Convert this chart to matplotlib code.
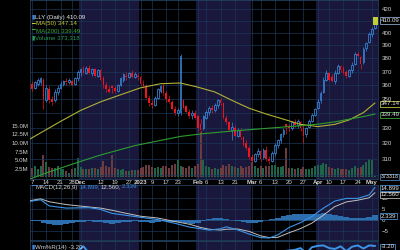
import matplotlib
matplotlib.use("Agg")
import matplotlib.pyplot as plt
from matplotlib.patches import Rectangle
from matplotlib.ticker import NullLocator

plt.rcParams["font.family"] = ["Liberation Sans", "DejaVu Sans"]

# LLY daily candles, one entry per trading day (Nov 7 2022 .. May 2 2023)
opens = [
    361, 358, 361, 362, 364, 349, 357, 350, 349, 355,
    358, 361, 363, 362, 363, 361, 365, 370, 371, 369,
    373, 369, 372, 367, 371, 365, 360, 357, 359, 358,
    356, 360, 364, 367, 366, 369, 366, 367, 366, 361,
    359, 351, 347, 346, 351, 356, 359, 354, 350, 348,
    343, 340, 341, 349, 345, 341, 339, 340, 338, 333,
    330, 337, 341, 344, 342, 346, 349, 347, 337, 334,
    329, 330, 325, 329, 324, 320, 317, 311, 309, 313,
    315, 311, 316, 310, 309, 314, 319, 322, 326, 333,
    331, 330, 334, 332, 334, 330, 326, 331, 335, 339,
    344, 349, 355, 364, 369, 366, 363, 369, 374, 372,
    370, 367, 371, 376, 383, 381, 377, 388, 393, 399,
    404]
highs = [
    363, 363, 365, 366, 365, 360, 359, 352, 357, 360,
    363, 364, 365, 365, 364, 366, 371, 373, 374, 374,
    375, 373, 373, 372, 372, 367, 362, 359, 360, 359,
    361, 366, 369, 370, 370, 371, 370, 369, 367, 364,
    361, 353, 349, 352, 358, 360, 361, 356, 353, 349,
    345, 344, 383, 350, 346, 343, 342, 342, 339, 336,
    339, 342, 345, 346, 347, 350, 351, 348, 339, 335,
    334, 332, 330, 330, 325, 322, 318, 313, 314, 317,
    316, 317, 318, 312, 315, 320, 323, 327, 330, 333,
    333, 335, 336, 336, 335, 332, 331, 336, 340, 344,
    350, 356, 366, 371, 370, 368, 371, 376, 375, 374,
    371, 372, 377, 385, 385, 382, 389, 393, 401, 405,
    411]
lows = [
    356, 357, 359, 360, 343, 348, 347, 346, 348, 353,
    357, 359, 360, 361, 359, 360, 363, 367, 368, 368,
    368, 367, 366, 366, 363, 358, 355, 354, 354, 354,
    355, 359, 362, 364, 365, 365, 365, 364, 360, 358,
    350, 345, 344, 345, 350, 354, 353, 348, 347, 342,
    339, 338, 339, 343, 340, 337, 336, 336, 328, 327,
    329, 336, 339, 340, 341, 344, 346, 336, 333, 328,
    322, 324, 324, 323, 318, 316, 310, 308, 308, 311,
    309, 310, 309, 307, 308, 312, 317, 320, 324, 326,
    328, 329, 331, 330, 328, 320, 324, 330, 334, 338,
    343, 347, 354, 363, 363, 362, 361, 368, 370, 368,
    365, 366, 369, 375, 381, 372, 376, 386, 392, 397,
    403]
closes = [
    357, 362, 364, 365, 350, 358, 349, 348, 355, 358,
    361, 363, 362, 364, 360, 365, 370, 372, 369, 373,
    369, 372, 367, 371, 364, 360, 357, 355, 358, 356,
    360, 365, 368, 366, 369, 366, 368, 366, 361, 359,
    351, 347, 346, 351, 357, 359, 354, 350, 348, 343,
    340, 342, 382, 344, 341, 338, 340, 337, 330, 329,
    338, 341, 344, 342, 346, 349, 347, 337, 334, 329,
    331, 325, 329, 324, 319, 317, 311, 309, 313, 315,
    310, 316, 310, 309, 314, 319, 322, 326, 329, 331,
    330, 334, 332, 335, 330, 325, 330, 335, 339, 343,
    348, 354, 364, 369, 364, 363, 369, 374, 371, 369,
    367, 371, 375, 383, 382, 376, 387, 392, 399, 403,
    410.09]
volumes = [  # millions of shares
    2.8, 3.2, 2.6, 3.4, 6.5, 4.6, 3.1, 2.9, 2.7, 3.2,
    2.5, 2.4, 2.0, 1.2, 2.6, 2.8, 5.6, 3.0, 2.6, 2.5,
    2.4, 2.7, 2.9, 2.6, 3.1, 4.9, 3.4, 3.0, 6.5, 2.8,
    2.4, 2.2, 2.5, 1.9, 2.0, 2.1, 2.2, 2.3, 2.8, 3.0,
    3.5, 3.6, 3.0, 2.9, 3.1, 2.8, 3.2, 3.3, 2.9, 3.6,
    3.8, 5.2, 3.4, 3.0, 2.8, 3.3, 2.7, 3.2, 4.0, 13.3,
    5.0, 3.4, 3.0, 2.6, 2.8, 2.5, 2.7, 3.5, 3.2, 4.0,
    3.4, 3.0, 2.9, 3.2, 2.8, 3.1, 3.4, 4.5, 3.2, 2.9,
    3.4, 2.8, 3.3, 3.2, 3.5, 3.6, 3.1, 3.0, 3.3, 8.5,
    2.9, 2.7, 2.6, 2.8, 2.4, 3.0, 2.6, 2.5, 2.8, 3.2,
    3.6, 3.5, 4.1, 3.8, 3.1, 2.7, 2.6, 2.9, 2.4, 2.5,
    2.6, 2.3, 2.8, 3.4, 2.9, 3.1, 3.6, 4.6, 5.3, 5.0,
    0.37]

# moving averages read at a few days
ma50_day = [-1, 5, 10, 17, 24, 31, 38, 45, 52, 58, 64, 70, 76, 82, 88, 94, 100, 106, 111, 116, 120]
ma50 = [322.5, 329, 334.5, 342, 348, 353, 358, 361, 361.5, 358.5, 355, 349, 343.5,
        339.5, 336, 332.5, 331, 332.5, 335.5, 340.5, 347.14]
ma200_day = [-1, 6, 12, 17, 24, 30, 36, 44, 52, 60, 70, 80, 88, 95, 100, 106, 111, 116, 120]
ma200 = [297.5, 302, 305.5, 308.5, 312.5, 315.5, 318.5, 321.5, 324.5, 326.3, 328,
         329.5, 330.7, 331.7, 332.6, 334.2, 336, 337.8, 339.49]

# MACD(12,26,9)
macd_day = [-1, 3, 6, 12, 20, 24, 28, 32, 38, 44, 50, 55, 59, 62, 66, 68, 72, 76, 80,
            83, 86, 90, 94, 98, 102, 106, 110, 114, 118, 120]
macd_line = [8.6, 9.4, 6.6, 5.6, 5.8, 5.0, 3.2, 2.5, 1.4, 0.4, -1.3, -3.0, -3.8, -4.4,
             -3.8, -2.9, -4.3, -6.2, -7.8, -8.0, -6.6, -3.2, -1.0, 1.8, 5.6, 8.8, 10.0,
             10.0, 11.6, 14.899]
macd_signal = [8.9, 9.8, 8.5, 7.2, 6.1, 5.6, 4.6, 3.5, 1.9, 1.1, -0.5, -1.7, -3.2, -4.0,
               -4.4, -4.0, -3.9, -5.0, -7.0, -7.8, -7.7, -5.6, -3.7, -1.2, 2.4, 6.3, 8.4,
               9.2, 10.3, 12.56]
hist_day = list(range(0, 121, 2))
macd_hist = [-0.3, -0.4, -1.2, -1.8, -2.0, -1.9, -1.6, -1.2, -0.8, -0.5, -0.3, -0.5,
             -0.9, -1.3, -1.5, -1.3, -0.9, -0.6, -0.4, -0.5, -0.9, -1.0, -0.7, -0.4,
             -0.5, -0.8, -0.9, -1.3, -1.4, -1.0, -0.2, 0.5, 0.9, 1.1, 0.8, 0.2, -0.4,
             -0.9, -1.2, -1.0, -0.6, 0.0, 0.6, 1.3, 2.0, 2.5, 2.8, 2.9, 2.9, 3.0, 3.1,
             3.2, 2.9, 2.4, 1.9, 1.6, 1.2, 0.9, 1.0, 1.6, 2.339]

# Williams %R(14)
wr_day = [0, 4, 8, 12, 16, 18, 20, 24, 28, 32, 36, 40, 44, 48, 52, 56, 60, 64, 68, 72,
          76, 80, 84, 88, 92, 94, 96, 98, 100, 102, 104, 106, 108, 110, 112, 114, 116,
          118, 120]
wr = [-40, -75, -50, -30, -15, -4, -20, -45, -80, -50, -30, -70, -55, -70, -60, -85,
      -55, -35, -60, -75, -90, -80, -40, -15, -12, -8, -20, -6, -3, -2, -8, -10, -4,
      -15, -5, -2, -9, -2, -3.2]

date_day = [0, 5, 10, 14, 17, 24, 29, 34, 38, 42, 47, 51, 58, 61, 66, 71, 77, 80, 85,
            90, 95, 100, 104, 109, 114, 119]
date_labels = ["7", "14", "21", "28", "Dec", "12", "19", "27", "2023", "9", "17", "23",
               "Feb", "6", "13", "21", "Mar", "6", "13", "20", "27", "Apr", "10", "17",
               "24", "May"]
month_labels = ["Dec", "2023", "Feb", "Mar", "Apr", "May"]
price_ticks = [300, 310, 320, 330, 340, 350, 360, 370, 380, 390, 400, 410, 420]
vol_ticks = [2.5, 5.0, 7.5, 10.0, 12.5, 15.0]

BG = "#000000"
SHADE = "#19183c"
GRID = "#1a3658"
TXT = "#d2d2d2"
UP = "#3b8be0"
DOWN = "#f0141e"
FS = 4.4
W, H = 400, 250

fig = plt.figure(figsize=(4, 2.5), dpi=100, facecolor=BG)


def rect(top, bottom):
    return [30 / W, 1 - bottom / H, 348 / W, (bottom - top) / H]


shades = [(16.5, 37.5), (57.5, 76.5), (99.5, 122)]  # Dec, Feb, Apr


def panel(r):
    a = fig.add_axes(r)
    a.set_facecolor(BG)
    for s0, s1 in shades:
        a.axvspan(s0, s1, color=SHADE, zorder=0, lw=0)
    a.set_xlim(-0.7, 121.1)
    for sp in a.spines.values():
        sp.set_color("#22405f")
        sp.set_linewidth(0.6)
    a.set_xticks(date_day)
    a.tick_params(length=0, labelsize=FS, colors=TXT, pad=1)
    a.grid(True, axis="x", color=GRID, lw=0.5)
    a.set_axisbelow(True)
    return a


# volume (underneath) + price panel
axv = panel(rect(0, 179))
axv.set_ylim(-0.44, 51.6)
axv.set_yticks(vol_ticks)
axv.set_yticklabels([f"{v:.1f}M" for v in vol_ticks])
axv.set_xticklabels(date_labels)
for t in axv.get_xticklabels():
    if t.get_text() in month_labels:
        t.set_fontweight("bold")
vcol = ["#1e6448" if c >= o else "#6b3b40" for o, c in zip(opens, closes)]
axv.bar(range(len(volumes)), volumes, width=0.72, color=vcol, lw=0, zorder=2)

ax = fig.add_axes(rect(0, 179), sharex=axv)
ax.patch.set_visible(False)
for sp in ax.spines.values():
    sp.set_visible(False)
ax.set_yscale("log")
ax.set_ylim(297.7, 427.6)
ax.yaxis.set_minor_locator(NullLocator())
ax.set_yticks(price_ticks)
ax.set_yticklabels(["" if p in (300, 340, 410) else str(p) for p in price_ticks])
ax.yaxis.tick_right()
ax.tick_params(length=0, labelsize=FS, colors=TXT, pad=2.5, labelbottom=False)
ax.grid(True, axis="y", color=GRID, lw=0.5)

for i, (o, h, l, c) in enumerate(zip(opens, highs, lows, closes)):
    lo, hi = min(o, c), max(o, c)
    col = UP if c >= o else DOWN
    ax.vlines(i, l, lo, color=col, lw=0.5, zorder=3)
    ax.vlines(i, hi, h, color=col, lw=0.5, zorder=3)
    if c >= o:
        ax.bar(i, hi - lo, bottom=lo, width=0.62, facecolor="none", edgecolor=col,
               lw=0.55, zorder=3)
    else:
        ax.bar(i, hi - lo, bottom=lo, width=0.62, color=col, lw=0, zorder=3)

ax.plot(ma50_day, ma50, color="#b0b034", lw=0.8, zorder=4)
ax.plot(ma200_day, ma200, color="#2e9c2e", lw=0.8, zorder=4)

# MACD panel
am = panel(rect(185, 240))
am.set_ylim(-8.9, 16.1)
am.set_yticks([-5, 0, 5, 10])
am.yaxis.tick_right()
am.tick_params(labelbottom=False, pad=2.5)
am.grid(True, axis="y", color=GRID, lw=0.5)
am.axhline(0, color="#2a5a8a", lw=0.5, zorder=1)
am.bar(hist_day, macd_hist, width=2.0, color="#2d6eae", lw=0, zorder=2)
am.plot(macd_day, macd_signal, color="#c0c0c0", lw=0.7, zorder=3)
am.plot(macd_day, macd_line, color="#3d93e6", lw=0.8, zorder=4)

# Williams %R panel (mostly below the picture)
aw = panel(rect(241, 291))
aw.set_ylim(-105, 8)
aw.set_yticks([])
aw.tick_params(labelbottom=False)
aw.plot(wr_day, wr, color="#3d93e6", lw=1.4, zorder=3)

renderer = fig.canvas.get_renderer()


def chain(x, y, parts):
    # write coloured pieces one after another on a row
    for s, col in parts:
        t = fig.text(x / W, 1 - y / H, s, color=col, fontsize=FS, va="center", ha="left",
                     zorder=6)
        x = t.get_window_extent(renderer=renderer).x1 + 1


chain(31, 17, [("\u25ae", UP), ("LLY (Daily) 410.09", "#e8e8e8")])
chain(31, 24, [("\u2501", "#c8c83a"), ("MA(50) 347.14", "#c8c83a")])
chain(31, 31, [("\u2501", "#3aa83a"), ("MA(200) 339.49", "#3aa83a")])
chain(31, 37.5, [("\u25ae", "#2a9a5a"), ("Volume 373,318", "#2a9a5a")])
chain(31, 187, [("\u2501", UP), ("MACD(12,26,9)", TXT), ("14.899,", UP),
                ("12.560,", TXT), ("2.339", UP)])
chain(31, 247, [("\u25ae", UP), ("Wm%R(14) -3.20", TXT)])

# current price marker on the last candle
fig.patches.append(Rectangle((373 / W, 1 - 25 / H), 5 / W, 8 / H, transform=fig.transFigure,
                             facecolor="#c4cc3c", edgecolor="none", zorder=5))


def side_box(y, s, edge, size=FS):
    fig.text(380.5 / W, 1 - y / H, s, color="#e6e6e6", fontsize=size, va="center",
             ha="left", zorder=7,
             bbox=dict(boxstyle="square,pad=0.15", facecolor=BG, edgecolor=edge, lw=0.6))


side_box(20.5, "410.09", "#8aa4c8")
side_box(104, "347.14", "#c0c040")
side_box(115, "339.49", "#3aa03a")
side_box(177, "373318", "#4a7ab8", size=3.9)
side_box(188, "14.899", "#4a8ad0")
side_box(195, "12.560", "#b8b8b8")
side_box(216, "2.339", "#4a8ad0")
side_box(247, "-3.20", "#4a8ad0")

fig.savefig("out.png", dpi=100, facecolor=BG)
